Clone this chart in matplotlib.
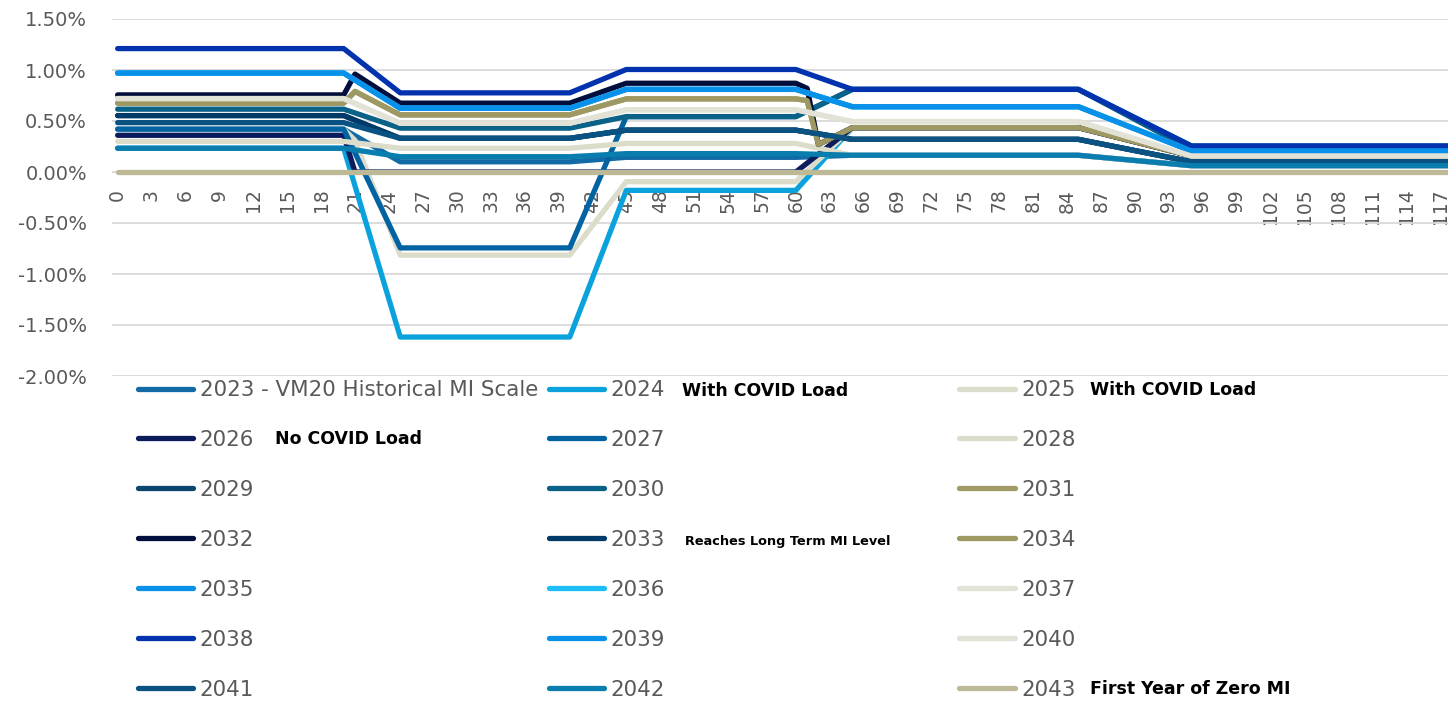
import matplotlib
matplotlib.use("Agg")
import matplotlib.pyplot as plt
import numpy as np

W, H = 1448, 701

# ---- data: MI rate (%) by age, values at the ages where the curve changes ----
AGES = [0, 20, 25, 40, 45, 60, 65, 85, 95, 120]
AGES_2025 = [0, 20, 21, 25, 40, 45, 60, 65, 85, 95, 120]
AGES_2026 = [0, 20, 21, 60, 65, 85, 95, 120]
AGES_KINK = [0, 20, 21, 25, 40, 45, 60, 61, 62, 65, 85, 95, 120]

mi_2023 = [0.42, 0.42, 0.10, 0.10, 0.144, 0.144, 0.164, 0.164, 0.062, 0.062]
mi_2024 = [0.233, 0.233, -1.618, -1.618, -0.18, -0.18, 0.435, 0.435, 0.157, 0.157]
mi_2025 = [0.42, 0.42, 0.31, -0.815, -0.815, -0.095, -0.095, 0.435, 0.435, 0.157, 0.157]
mi_2026 = [0.36, 0.36, 0.0, 0.0, 0.435, 0.435, 0.157, 0.157]
mi_2027 = [0.42, 0.42, -0.744, -0.744, 0.543, 0.543, 0.81, 0.81, 0.255, 0.255]
mi_2028 = [0.30, 0.30, 0.233, 0.233, 0.28, 0.28, 0.164, 0.164, 0.062, 0.062]
mi_2029 = [0.553, 0.553, 0.33, 0.33, 0.41, 0.41, 0.32, 0.32, 0.10, 0.10]
mi_2030 = [0.616, 0.616, 0.43, 0.43, 0.543, 0.543, 0.81, 0.81, 0.22, 0.22]
mi_2031 = [0.675, 0.675, 0.79, 0.56, 0.56, 0.717, 0.717, 0.70, 0.27, 0.435, 0.435, 0.157, 0.157]
mi_2032 = [0.756, 0.756, 0.96, 0.675, 0.675, 0.87, 0.87, 0.82, 0.27, 0.435, 0.435, 0.157, 0.157]
mi_2033 = [0.553, 0.553, 0.33, 0.33, 0.41, 0.41, 0.32, 0.32, 0.10, 0.10]
mi_2034 = [0.675, 0.675, 0.79, 0.56, 0.56, 0.717, 0.717, 0.70, 0.27, 0.435, 0.435, 0.157, 0.157]
mi_2035 = [0.97, 0.97, 0.625, 0.625, 0.81, 0.81, 0.64, 0.64, 0.206, 0.206]
mi_2036 = [0.97, 0.97, 0.625, 0.625, 0.81, 0.81, 0.64, 0.64, 0.206, 0.206]
mi_2037 = [0.72, 0.72, 0.478, 0.478, 0.61, 0.61, 0.494, 0.494, 0.157, 0.157]
mi_2038 = [1.21, 1.21, 0.776, 0.776, 1.005, 1.005, 0.81, 0.81, 0.255, 0.255]
mi_2039 = [0.97, 0.97, 0.625, 0.625, 0.81, 0.81, 0.64, 0.64, 0.206, 0.206]
mi_2040 = [0.72, 0.72, 0.478, 0.478, 0.61, 0.61, 0.494, 0.494, 0.157, 0.157]
mi_2041 = [0.484, 0.484, 0.33, 0.33, 0.41, 0.41, 0.32, 0.32, 0.10, 0.10]
mi_2042 = [0.233, 0.233, 0.15, 0.15, 0.18, 0.18, 0.164, 0.164, 0.062, 0.062]
mi_2043 = [0.0, 0.0, 0.0, 0.0, 0.0, 0.0, 0.0, 0.0, 0.0, 0.0]

labels = ["2023 - VM20 Historical MI Scale"] + [str(y) for y in range(2024, 2044)]
colors = ["#126AA6", "#0AA2DD", "#DCDCCB", "#0B1B5C", "#0263A3", "#DCDCCB",
          "#0B466F", "#0B6289", "#A09A64", "#020F3C", "#003A68", "#9E9862",
          "#0990E8", "#1DBDF5", "#E2E2D6", "#0232AE", "#0990E8", "#E2E2D6",
          "#0A5282", "#0A7DAF", "#BDB895"]

series = [
    (AGES, mi_2023), (AGES, mi_2024), (AGES_2025, mi_2025), (AGES_2026, mi_2026),
    (AGES, mi_2027), (AGES, mi_2028), (AGES, mi_2029), (AGES, mi_2030),
    (AGES_KINK, mi_2031), (AGES_KINK, mi_2032), (AGES, mi_2033), (AGES_KINK, mi_2034),
    (AGES, mi_2035), (AGES, mi_2036), (AGES, mi_2037), (AGES, mi_2038),
    (AGES, mi_2039), (AGES, mi_2040), (AGES, mi_2041), (AGES, mi_2042),
    (AGES, mi_2043),
]

notes = [
    ("With COVID Load", 682, 391, 12.5),
    ("With COVID Load", 1090, 390, 12.5),
    ("No COVID Load", 275, 439, 12.5),
    ("Reaches Long Term MI Level", 685, 541, 9.3),
    ("First Year of Zero MI", 1090, 689, 12.5),
]

# ---- figure ----
plt.rcParams["font.family"] = ["DejaVu Sans"]
fig = plt.figure(figsize=(W / 100, H / 100), dpi=100)
ax = fig.add_axes([112 / W, 1 - 376 / H, 1 - 112 / W, (376 - 19) / H])

lines = []
for (ages, vals), lab, col in zip(series, labels, colors):
    ln, = ax.plot(ages, vals, color=col, lw=3.8, label=lab, zorder=3,
                  solid_capstyle="round", solid_joinstyle="round")
    lines.append(ln)

ax.set_xlim(-0.5, 117.7)
ax.set_ylim(-2.0, 1.5)
ax.set_yticks(np.arange(-2.0, 1.51, 0.5))
ax.set_yticklabels([f"{v:.2f}%" for v in np.arange(-2.0, 1.51, 0.5)])
ax.set_xticks(range(0, 118, 3))
ax.set_xticklabels([str(a) for a in range(0, 118, 3)])

ax.yaxis.grid(True, color="#D9D9D9", lw=1.3)
ax.set_axisbelow(True)
for s in ["top", "right", "left"]:
    ax.spines[s].set_visible(False)
ax.spines["bottom"].set_position(("data", 0))
ax.spines["bottom"].set_color("#D9D9D9")
ax.spines["bottom"].set_zorder(1)
ax.tick_params(axis="y", length=0, pad=18, labelsize=14, labelcolor="#595959")
ax.tick_params(axis="x", length=0, pad=12, labelsize=13.5, labelcolor="#595959",
               rotation=90)

# ---- legend: three columns, filled row by row ----
col_x = [137.6, 548.6, 959.3]
for c in range(3):
    hs = lines[c::3]
    fig.legend(handles=hs, labels=[h.get_label() for h in hs],
               loc="upper left", bbox_to_anchor=(col_x[c] / W, 1 - 380 / H),
               frameon=False, fontsize=15.4, labelcolor="#595959",
               handlelength=2.6, handletextpad=0.3, labelspacing=1.40,
               borderpad=0, borderaxespad=0)

for txt, x, y, size in notes:
    fig.text(x / W, 1 - y / H, txt, fontsize=size, fontweight="bold",
             color="black", va="center", ha="left")

fig.savefig("out.png", dpi=100)
